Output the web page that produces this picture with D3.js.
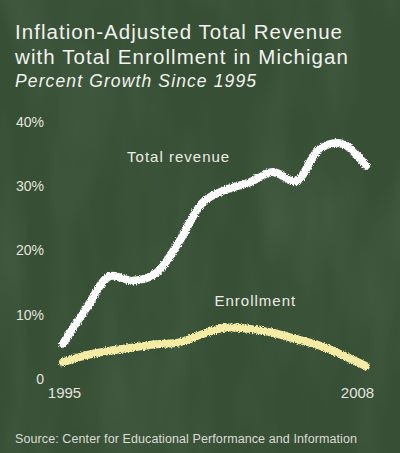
<!DOCTYPE html>
<html>
<head>
<meta charset="utf-8">
<script src="https://cdn.jsdelivr.net/npm/d3@7"></script>
<style>
  html, body { margin: 0; padding: 0; background: #364f35; }
  svg { display: block; }
</style>
</head>
<body>
<div id="wrapper"></div>
<script>
const W = 400, H = 453;

// data (percent growth since 1995)
const years = [1995, 1996, 1997, 1998, 1999, 2000, 2001, 2002, 2003, 2004, 2005, 2006, 2007, 2008];
const revenue = [5.5, 11, 16, 15.3, 16.5, 21.5, 27.5, 29.5, 30.6, 32.2, 30.8, 35.8, 36.6, 33.2];
const enrollment = [2.6, 3.7, 4.4, 4.9, 5.4, 5.7, 7.0, 8.0, 7.8, 7.2, 6.2, 5.2, 3.7, 2.0];
const yTicks = [0, 10, 20, 30, 40];
const xTicks = [1995, 2008];

const titleLines = ['Inflation-Adjusted Total Revenue', 'with Total Enrollment in Michigan'];
const subtitle = 'Percent Growth Since 1995';
const source = 'Source: Center for Educational Performance and Information';

const FONT = 'Liberation Sans, Arial, sans-serif';

const svg = d3.select('#wrapper').append('svg')
  .attr('width', W)
  .attr('height', H);

const defs = svg.append('defs');

// chalk edge roughening
const chalk = defs.append('filter').attr('id', 'chalk')
  .attr('x', '-10%').attr('y', '-10%').attr('width', '120%').attr('height', '120%');
chalk.append('feTurbulence')
  .attr('type', 'fractalNoise').attr('baseFrequency', 0.9)
  .attr('numOctaves', 2).attr('seed', 3).attr('result', 'n');
chalk.append('feDisplacementMap')
  .attr('in', 'SourceGraphic').attr('in2', 'n')
  .attr('scale', 4).attr('xChannelSelector', 'R').attr('yChannelSelector', 'G');

// board smudge texture
const board = defs.append('filter').attr('id', 'board');
board.append('feTurbulence')
  .attr('type', 'fractalNoise').attr('baseFrequency', '0.02 0.006')
  .attr('numOctaves', 3).attr('seed', 7);
board.append('feColorMatrix')
  .attr('type', 'matrix')
  .attr('values', '0 0 0 0 0.6  0 0 0 0 0.75  0 0 0 0 0.6  0 0 0 0.5 -0.18');

svg.append('rect').attr('width', W).attr('height', H).attr('fill', '#364f35');
svg.append('rect').attr('width', W).attr('height', H).attr('filter', 'url(#board)').attr('opacity', 0.3);

// titles
const title = svg.append('g').attr('fill', '#f2f2ee').attr('font-family', FONT);
const titleWidths = [327, 333];
title.selectAll('text.t').data(titleLines).join('text')
  .attr('class', 't')
  .attr('x', 15)
  .attr('y', (d, i) => 39 + i * 25)
  .attr('font-size', 20.5)
  .attr('textLength', (d, i) => titleWidths[i])
  .attr('lengthAdjust', 'spacing')
  .text(d => d);
title.append('text')
  .attr('x', 15).attr('y', 87)
  .attr('font-size', 17.5)
  .attr('font-style', 'italic')
  .attr('textLength', 241)
  .attr('lengthAdjust', 'spacing')
  .text(subtitle);

const x = d3.scaleLinear().domain([1995, 2008]).range([63, 366]);
const y = d3.scaleLinear().domain([0, 40]).range([379, 122]);

// y axis
const yAxis = svg.append('g')
  .attr('transform', 'translate(44,0)')
  .call(d3.axisLeft(y).tickValues(yTicks).tickSize(0).tickPadding(0)
    .tickFormat(d => d === 0 ? '0' : d + '%'));
yAxis.select('.domain').remove();
yAxis.selectAll('text')
  .attr('fill', '#e4e4dc')
  .attr('font-family', FONT)
  .attr('font-size', 14);

// x axis
const xAxis = svg.append('g')
  .attr('transform', 'translate(0,387)')
  .call(d3.axisBottom(x).tickValues(xTicks).tickSize(0).tickPadding(0)
    .tickFormat(d3.format('d')));
xAxis.select('.domain').remove();
xAxis.selectAll('text')
  .attr('fill', '#e4e4dc')
  .attr('font-family', FONT)
  .attr('font-size', 15)
  .attr('dx', d => d === 2008 ? -9 : 1);

// chalk lines
const line = d3.line().curve(d3.curveCatmullRom.alpha(0.5));
const series = [
  { name: 'Total revenue', values: revenue, color: '#ffffff' },
  { name: 'Enrollment', values: enrollment, color: '#f4eba4' }
];

svg.append('g').selectAll('path').data(series).join('path')
  .attr('d', s => line(years.map((yr, i) => [x(yr), y(s.values[i])])))
  .attr('fill', 'none')
  .attr('stroke', s => s.color)
  .attr('stroke-width', 8)
  .attr('stroke-linecap', 'round')
  .attr('stroke-linejoin', 'round')
  .attr('filter', 'url(#chalk)');

// series labels
const labels = [
  { text: 'Total revenue', year: 1997.75, value: 33.7 },
  { text: 'Enrollment', year: 2001.5, value: 11.3 }
];
svg.append('g').selectAll('text').data(labels).join('text')
  .attr('x', d => x(d.year))
  .attr('y', d => y(d.value))
  .attr('fill', '#ecece4')
  .attr('font-family', FONT)
  .attr('font-size', 15)
  .attr('letter-spacing', 1)
  .text(d => d.text);

svg.append('text')
  .attr('x', 15).attr('y', 443)
  .attr('fill', '#dcdcd4')
  .attr('font-family', FONT)
  .attr('font-size', 12.5)
  .attr('textLength', 342)
  .attr('lengthAdjust', 'spacing')
  .text(source);
</script>
</body>
</html>
